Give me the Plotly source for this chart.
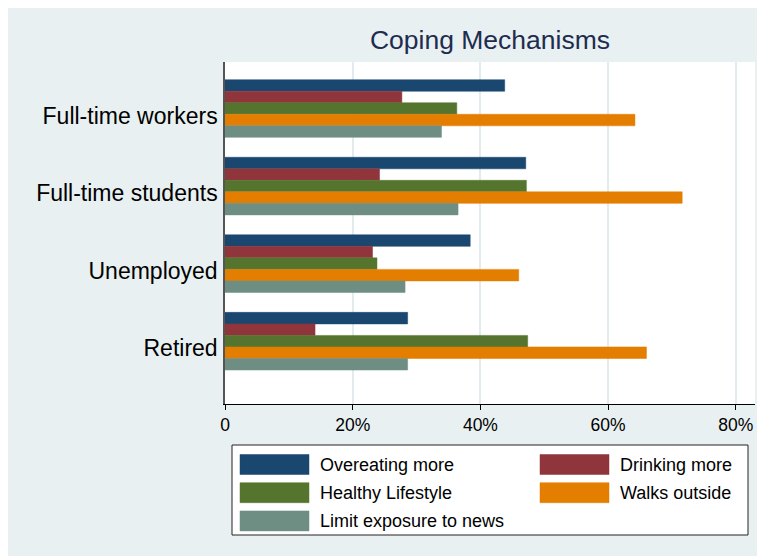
import plotly.graph_objects as go

# data (share of respondents, %)
groups = ['Full-time workers', 'Full-time students', 'Unemployed', 'Retired']
series = ['Overeating more', 'Drinking more', 'Healthy Lifestyle', 'Walks outside', 'Limit exposure to news']
overeating = [43.8, 47.1, 38.4, 28.6]
drinking = [27.7, 24.2, 23.1, 14.1]
healthy = [36.3, 47.2, 23.8, 47.4]
walks = [64.2, 71.6, 46.0, 66.0]
limit_news = [33.9, 36.5, 28.2, 28.6]
values = [overeating, drinking, healthy, walks, limit_news]

tick_vals = [0, 20, 40, 60, 80]
tick_text = ['0', '20%', '40%', '60%', '80%']

colors = ['#1A476F', '#90353B', '#55752F', '#E37E00', '#6E8E84']
bg = '#E8F0F1'
font = 'Liberation Sans, Arial, sans-serif'

# page geometry (px); the html body adds an 8px white margin, so the figure is 8px smaller
OFF = 8
W, H = 765 - OFF, 556 - OFF
L, R, T, B = 225 - OFF, 10, 62 - OFF, 152
PW, PH = W - L - R, H - T - B


# reference-screenshot pixels -> paper coords
def px_x(p):
    return (p - 225) / PW


def px_y(p):
    return (404 - p) / PH


fig = go.Figure()
for name, vals, col in zip(series, values, colors):
    fig.add_trace(go.Bar(
        name=name, y=groups, x=vals, orientation='h',
        marker=dict(color=col, line=dict(color=col, width=0.5)),
        showlegend=False,
    ))

# legend drawn as a Stata-style box below the plot
shapes = [dict(type='rect', xref='paper', yref='paper',
               x0=px_x(232), x1=px_x(748), y0=px_y(445), y1=px_y(535),
               fillcolor='white', line=dict(color='#222222', width=1), layer='above')]
annotations = []
for i, (name, col) in enumerate(zip(series, colors)):
    c, r = i % 2, i // 2
    yc = 464.5 + r * 28.2
    shapes.append(dict(type='rect', xref='paper', yref='paper',
                       x0=px_x(240 + c * 300), x1=px_x(309 + c * 300),
                       y0=px_y(yc - 10), y1=px_y(yc + 10),
                       fillcolor=col, line=dict(color=col, width=0.5), layer='above'))
    annotations.append(dict(xref='paper', yref='paper', x=px_x(318 + c * 300), y=px_y(yc),
                            text=name, showarrow=False, xanchor='left', yanchor='middle',
                            font=dict(size=18, color='black', family=font)))

fig.update_layout(
    width=W, height=H,
    margin=dict(l=L, r=R, t=T, b=B),
    paper_bgcolor=bg, plot_bgcolor='white',
    barmode='group', bargap=0.257, bargroupgap=0,
    title=dict(text='Coping Mechanisms', x=px_x(490), xref='paper', y=1 - (40 - OFF) / H,
               xanchor='center', yanchor='middle',
               font=dict(size=26.5, color='#1E2C50', family=font)),
    xaxis=dict(range=[0, 83], tickvals=tick_vals, ticktext=tick_text,
               showgrid=True, gridcolor='#E2EBED', gridwidth=1.5, zeroline=False,
               showline=True, linecolor='black', linewidth=1,
               ticks='outside', ticklen=5, tickcolor='black',
               tickfont=dict(size=17.5, color='black', family=font)),
    yaxis=dict(range=[3.81, -0.6], showgrid=False, zeroline=False,
               showline=True, linecolor='#555555', linewidth=1.5,
               ticks='', ticklabelstandoff=1, ticklabelshift=-7,
               tickfont=dict(size=23, color='black', family=font)),
    shapes=shapes, annotations=annotations,
    showlegend=False,
)

fig.write_html('out.html')
